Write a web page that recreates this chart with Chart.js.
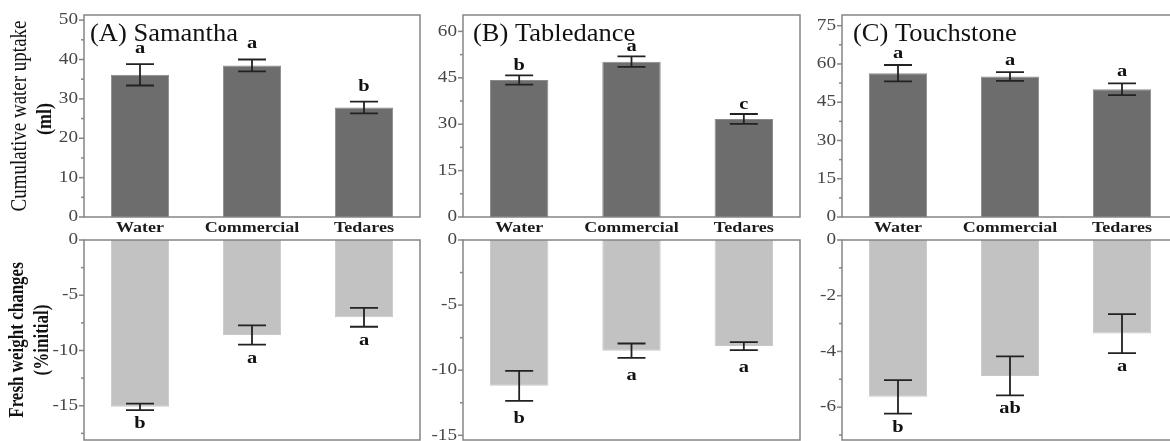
<!DOCTYPE html>
<html>
<head>
<meta charset="utf-8">
<script src="https://cdn.jsdelivr.net/npm/chart.js@4.4.1/dist/chart.umd.min.js"></script>
<style>
  html, body { margin: 0; padding: 0; background: #fff; overflow: hidden; }
  #wrap { position: relative; width: 1170px; height: 441px; overflow: hidden; }
  canvas { position: absolute; }
</style>
</head>
<body>
<div id="wrap"></div>
<script>
// Treatments
const categories = ["Water", "Commercial", "Tedares"];

// Cumulative water uptake (ml), mean and error
const uptakeSamantha = [36.1, 38.5, 27.8];
const uptakeSamanthaErr = [2.7, 1.5, 1.5];
const uptakeSamanthaSig = ["a", "a", "b"];
const uptakeTabledance = [44.3, 50.2, 31.7];
const uptakeTabledanceErr = [1.5, 1.7, 1.6];
const uptakeTabledanceSig = ["b", "a", "c"];
const uptakeTouchstone = [56.4, 55.1, 50.1];
const uptakeTouchstoneErr = [3.2, 1.7, 2.3];
const uptakeTouchstoneSig = ["a", "a", "a"];

// Fresh weight changes (% initial), mean and error
const freshSamantha = [-15.1, -8.6, -7.0];
const freshSamanthaErr = [0.3, 0.87, 0.85];
const freshSamanthaSig = ["b", "a", "a"];
const freshTabledance = [-11.2, -8.5, -8.15];
const freshTabledanceErr = [1.15, 0.55, 0.3];
const freshTabledanceSig = ["b", "a", "a"];
const freshTouchstone = [-5.63, -4.88, -3.36];
const freshTouchstoneErr = [0.6, 0.7, 0.7];
const freshTouchstoneSig = ["b", "ab", "a"];

// Tick labels
const uptakeTicksA = [0, 10, 20, 30, 40, 50];
const uptakeTicksB = [0, 15, 30, 45, 60];
const uptakeTicksC = [0, 15, 30, 45, 60, 75];
const freshTicksA = [0, -5, -10, -15];
const freshTicksB = [0, -5, -10, -15];
const freshTicksC = [0, -2, -4, -6];

const SX = 1.2; // the source figure is stretched sideways
const SERIF = '"Liberation Serif", "Times New Roman", serif';

function drawText(ctx, s, x, y, font, color, align, base, rotate, sx = SX) {
    ctx.save();
    ctx.translate(x, y);
    ctx.scale(sx, 1);
    if (rotate) ctx.rotate(-Math.PI / 2);
    ctx.font = font;
    ctx.fillStyle = color;
    ctx.textAlign = align;
    ctx.textBaseline = base;
    ctx.fillText(s, 0, 0);
    ctx.restore();
}

function makePanel(p) {
    const canvas = document.createElement("canvas");
    canvas.width = p.width;
    canvas.height = p.height;
    canvas.style.left = p.left + "px";
    canvas.style.top = p.top + "px";
    canvas.style.width = p.width + "px";
    canvas.style.height = p.height + "px";
    document.getElementById("wrap").appendChild(canvas);

    const panelPlugin = {
        id: "panel",
        afterDraw(chart) {
            const ctx = chart.ctx;
            const area = chart.chartArea;
            const xs = chart.scales.x;
            const ys = chart.scales.y;

            // frame
            ctx.save();
            ctx.strokeStyle = "#858585";
            ctx.lineWidth = 1.5;
            ctx.strokeRect(area.left, area.top, area.right - area.left, area.bottom - area.top);

            // ticks and tick labels
            ys.ticks.forEach(t => {
                const py = ys.getPixelForValue(t.value);
                const major = p.majors.some(m => Math.abs(m - t.value) < 1e-6);
                ctx.beginPath();
                ctx.moveTo(area.left - (major ? 5 : 3), py);
                ctx.lineTo(area.left, py);
                ctx.stroke();
                if (major) {
                    drawText(ctx, String(t.value), area.left - 6, py, "16px " + SERIF, "#474747", "right", "middle");
                }
            });

            // error bars
            ctx.strokeStyle = "#222";
            ctx.lineWidth = 1.8;
            p.values.forEach((v, i) => {
                const cx = xs.getPixelForValue(i);
                const hi = ys.getPixelForValue(v + p.errs[i]);
                const lo = ys.getPixelForValue(v - p.errs[i]);
                ctx.beginPath();
                ctx.moveTo(cx, hi); ctx.lineTo(cx, lo);
                ctx.moveTo(cx - 14, hi); ctx.lineTo(cx + 14, hi);
                ctx.moveTo(cx - 14, lo); ctx.lineTo(cx + 14, lo);
                ctx.stroke();

                // significance letters
                if (p.dir > 0) {
                    drawText(ctx, p.sigs[i], cx, hi - p.sigGap, "bold 17px " + SERIF, "#111", "center", "alphabetic");
                } else {
                    drawText(ctx, p.sigs[i], cx, lo + p.sigGap, "bold 17px " + SERIF, "#111", "center", "alphabetic");
                }
            });

            // panel title
            if (p.title) {
                drawText(ctx, p.title, area.left + p.titleDx, 41, "25px " + SERIF, "#111", "left", "alphabetic", false, 1.06);
            }

            // category labels under the upper panel
            if (p.xlabels) {
                categories.forEach((c, i) => {
                    drawText(ctx, c, xs.getPixelForValue(i), area.bottom + 15, "bold 15px " + SERIF, "#1a1a1a", "center", "alphabetic");
                });
            }

            // y axis titles
            if (p.ytitle) {
                p.ytitle.forEach(line => {
                    drawText(ctx, line.text, line.x, line.y, line.font, "#111", "center", "alphabetic", true);
                });
            }
            ctx.restore();
        }
    };

    new Chart(canvas, {
        type: "bar",
        data: {
            labels: categories,
            datasets: [{
                data: p.values,
                backgroundColor: p.color,
                borderColor: p.edge,
                borderWidth: 1,
                barPercentage: 0.52,
                categoryPercentage: 1
            }]
        },
        options: {
            responsive: false,
            animation: false,
            events: [],
            layout: { padding: { top: p.padTop, bottom: p.padBottom, left: 0, right: p.padRight } },
            plugins: { legend: { display: false }, tooltip: { enabled: false } },
            scales: {
                x: { display: false },
                y: {
                    min: p.min,
                    max: p.max,
                    ticks: { display: false, stepSize: p.minor, includeBounds: false },
                    grid: { display: false },
                    border: { display: false },
                    afterFit(scale) { scale.width = p.yW; }
                }
            }
        },
        plugins: [panelPlugin]
    });
}

const upperDark = "#6d6d6d", upperEdge = "#8a8a8a";
const lowerLight = "#c2c2c2", lowerEdge = "#c8c8c8";

// Column geometry: canvas left / y axis width / canvas width
const cols = [
    { left: 0, yW: 84, width: 424 },
    { left: 413, yW: 50, width: 391 },
    { left: 792, yW: 50, width: 390 }
];

// Upper row
makePanel({
    ...cols[0], top: 0, height: 240, padTop: 15, padBottom: 23, padRight: 4,
    min: 0, max: 51.3, minor: 5, majors: uptakeTicksA,
    values: uptakeSamantha, errs: uptakeSamanthaErr, sigs: uptakeSamanthaSig, sigGap: 11, dir: 1,
    color: upperDark, edge: upperEdge, title: "(A) Samantha", titleDx: 6, xlabels: true,
    ytitle: [
        { text: "Cumulative water uptake", x: 26, y: 116, font: "19px " + SERIF },
        { text: "(ml)", x: 51, y: 119, font: "bold 18px " + SERIF }
    ]
});
makePanel({
    ...cols[1], top: 0, height: 240, padTop: 15, padBottom: 23, padRight: 4,
    min: 0, max: 65.3, minor: 7.5, majors: uptakeTicksB,
    values: uptakeTabledance, errs: uptakeTabledanceErr, sigs: uptakeTabledanceSig, sigGap: 5, dir: 1,
    color: upperDark, edge: upperEdge, title: "(B) Tabledance", titleDx: 10, xlabels: true
});
makePanel({
    ...cols[2], top: 0, height: 240, padTop: 15, padBottom: 23, padRight: 4,
    min: 0, max: 79.2, minor: 7.5, majors: uptakeTicksC,
    values: uptakeTouchstone, errs: uptakeTouchstoneErr, sigs: uptakeTouchstoneSig, sigGap: 7, dir: 1,
    color: upperDark, edge: upperEdge, title: "(C) Touchstone", titleDx: 11, xlabels: true
});

// Lower row
makePanel({
    ...cols[0], top: 228, height: 215, padTop: 12, padBottom: 3, padRight: 4,
    min: -18.1, max: 0, minor: 2.5, majors: freshTicksA,
    values: freshSamantha, errs: freshSamanthaErr, sigs: freshSamanthaSig, sigGap: 18, dir: -1,
    color: lowerLight, edge: lowerEdge,
    ytitle: [
        { text: "Fresh weight changes", x: 23, y: 112, font: "bold 17px " + SERIF },
        { text: "(%initial)", x: 48, y: 112, font: "bold 17px " + SERIF }
    ]
});
makePanel({
    ...cols[1], top: 228, height: 215, padTop: 12, padBottom: 3, padRight: 4,
    min: -15.36, max: 0, minor: 2.5, majors: freshTicksB,
    values: freshTabledance, errs: freshTabledanceErr, sigs: freshTabledanceSig, sigGap: 22, dir: -1,
    color: lowerLight, edge: lowerEdge
});
makePanel({
    ...cols[2], top: 228, height: 215, padTop: 12, padBottom: 3, padRight: 4,
    min: -7.18, max: 0, minor: 1, majors: freshTicksC,
    values: freshTouchstone, errs: freshTouchstoneErr, sigs: freshTouchstoneSig, sigGap: 18, dir: -1,
    color: lowerLight, edge: lowerEdge
});
</script>
</body>
</html>
